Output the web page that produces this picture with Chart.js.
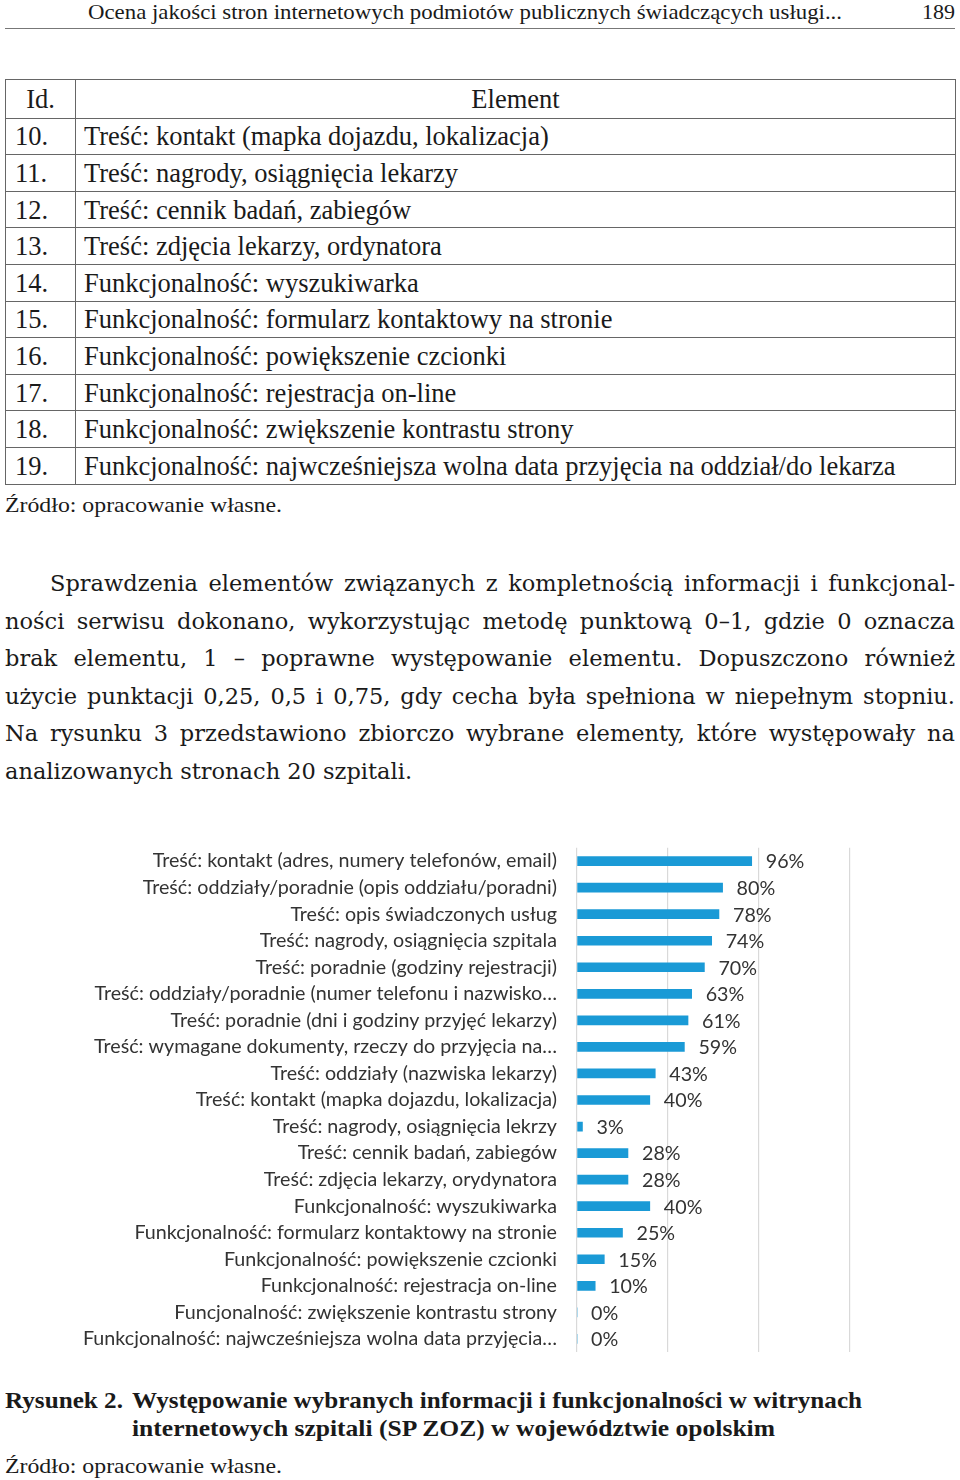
<!DOCTYPE html>
<html lang="pl">
<head>
<meta charset="utf-8">
<title>Rysunek 2</title>
<script src="https://cdn.jsdelivr.net/npm/chart.js@4.4.1/dist/chart.umd.min.js"></script>
<style>
  html, body { margin: 0; padding: 0; background: #fff; }
  body { width: 960px; height: 1480px; position: relative; font-family: "Liberation Serif", serif; color: #1a1a1a; overflow: hidden; }
  .abs { position: absolute; white-space: nowrap; }
  .fit { transform-origin: 0 50%; }
  #header { left: 88px; top: 0; font-size: 22px; line-height: 24px; }
  #page { right: 5px; top: 0; font-size: 22px; line-height: 24px; }
  #rule { left: 5px; top: 28px; width: 950px; height: 0; border-top: 1.5px solid #777; }
  table { position: absolute; left: 5px; top: 79px; width: 951px; border-collapse: collapse; font-size: 26.5px; }
  td { border: 1.5px solid #666; height: 35.6px; padding: 0 0 0 8px; line-height: 34px; white-space: nowrap; }
  td.id { width: 60px; padding-left: 9px; }
  th { border: 1.5px solid #666; height: 35.6px; font-weight: normal; line-height: 34px; }
  .src { font-size: 22px; line-height: 24px; left: 5px; }
  .para { left: 5px; width: 950px; font-family: "DejaVu Serif", serif; font-size: 22.5px; line-height: 30px; text-align: justify; text-align-last: justify; white-space: nowrap; }
  .caption { font-weight: bold; font-size: 23px; line-height: 26px; }
  #chartBox { position: absolute; left: 0; top: 816px; width: 960px; height: 568px; }
</style>
</head>
<body>

<div class="abs fit" id="header" data-w="754">Ocena jakości stron internetowych podmiotów publicznych świadczących usługi...</div>
<div class="abs" id="page">189</div>
<div class="abs" id="rule"></div>

<table>
  <tr><th>Id.</th><th>Element</th></tr>
  <tr><td class="id">10.</td><td>Treść: kontakt (mapka dojazdu, lokalizacja)</td></tr>
  <tr><td class="id">11.</td><td>Treść: nagrody, osiągnięcia lekarzy</td></tr>
  <tr><td class="id">12.</td><td>Treść: cennik badań, zabiegów</td></tr>
  <tr><td class="id">13.</td><td>Treść: zdjęcia lekarzy, ordynatora</td></tr>
  <tr><td class="id">14.</td><td>Funkcjonalność: wyszukiwarka</td></tr>
  <tr><td class="id">15.</td><td>Funkcjonalność: formularz kontaktowy na stronie</td></tr>
  <tr><td class="id">16.</td><td>Funkcjonalność: powiększenie czcionki</td></tr>
  <tr><td class="id">17.</td><td>Funkcjonalność: rejestracja on-line</td></tr>
  <tr><td class="id">18.</td><td>Funkcjonalność: zwiększenie kontrastu strony</td></tr>
  <tr><td class="id">19.</td><td>Funkcjonalność: najwcześniejsza wolna data przyjęcia na oddział/do lekarza</td></tr>
</table>

<div class="abs src fit" style="top:493px" data-w="277">Źródło: opracowanie własne.</div>

<div class="abs para" style="top:568px; left:50px; width:905px">Sprawdzenia elementów związanych z kompletnością informacji i funkcjonal-</div>
<div class="abs para" style="top:606px">ności serwisu dokonano, wykorzystując metodę punktową 0–1, gdzie 0 oznacza</div>
<div class="abs para" style="top:643px">brak elementu, 1 – poprawne występowanie elementu. Dopuszczono również</div>
<div class="abs para" style="top:681px">użycie punktacji 0,25, 0,5 i 0,75, gdy cecha była spełniona w niepełnym stopniu.</div>
<div class="abs para" style="top:718px">Na rysunku 3 przedstawiono zbiorczo wybrane elementy, które występowały na</div>
<div class="abs para" style="top:756px; text-align-last:left">analizowanych stronach 20 szpitali.</div>

<div id="chartBox"><canvas id="chart"></canvas></div>

<div class="abs caption fit" style="top:1388px; left:5px" data-w="118">Rysunek 2.</div>
<div class="abs caption fit" style="top:1388px; left:132px" data-w="730">Występowanie wybranych informacji i funkcjonalności w witrynach</div>
<div class="abs caption fit" style="top:1416px; left:132px" data-w="643">internetowych szpitali (SP ZOZ) w województwie opolskim</div>
<div class="abs src fit" style="top:1454px" data-w="277">Źródło: opracowanie własne.</div>

<script>
const categories = [
  'Treść: kontakt (adres, numery telefonów, email)',
  'Treść: oddziały/poradnie (opis oddziału/poradni)',
  'Treść: opis świadczonych usług',
  'Treść: nagrody, osiągnięcia szpitala',
  'Treść: poradnie (godziny rejestracji)',
  'Treść: oddziały/poradnie (numer telefonu i nazwisko…',
  'Treść: poradnie (dni i godziny przyjęć lekarzy)',
  'Treść: wymagane dokumenty, rzeczy do przyjęcia na…',
  'Treść: oddziały (nazwiska lekarzy)',
  'Treść: kontakt (mapka dojazdu, lokalizacja)',
  'Treść: nagrody, osiągnięcia lekrzy',
  'Treść: cennik badań, zabiegów',
  'Treść: zdjęcia lekarzy, orydynatora',
  'Funkcjonalność: wyszukiwarka',
  'Funkcjonalność: formularz kontaktowy na stronie',
  'Funkcjonalność: powiększenie czcionki',
  'Funkcjonalność: rejestracja on-line',
  'Funcjonalność: zwiększenie kontrastu strony',
  'Funkcjonalność: najwcześniejsza wolna data przyjęcia…'
];
const values = [96, 80, 78, 74, 70, 63, 61, 59, 43, 40, 3, 28, 28, 40, 25, 15, 10, 0, 0];
const gridTicks = [0, 50, 100, 150];

// stretch a few condensed lines to the width they have on the page
document.querySelectorAll('.fit').forEach(el => {
  const w = parseFloat(el.dataset.w);
  const real = el.getBoundingClientRect().width;
  if (real > 0) el.style.transform = 'scaleX(' + (w / real) + ')';
});

const labelFont = '"Lato", "Noto Sans", sans-serif';

const valueLabels = {
  id: 'valueLabels',
  afterDatasetsDraw(chart) {
    const ctx = chart.ctx;
    const meta = chart.getDatasetMeta(0);
    ctx.save();
    ctx.font = '19.7px ' + labelFont;
    ctx.fillStyle = '#333';
    ctx.textAlign = 'left';
    ctx.textBaseline = 'middle';
    meta.data.forEach((bar, i) => {
      ctx.fillText(values[i] + '%', bar.x + 14, bar.y + 1);
    });
    ctx.restore();
  }
};

new Chart(document.getElementById('chart').getContext('2d'), {
  type: 'bar',
  data: {
    labels: categories,
    datasets: [{
      data: values,
      backgroundColor: '#1a9ad6',
      borderWidth: 0,
      barThickness: 9
    }]
  },
  options: {
    indexAxis: 'y',
    responsive: true,
    maintainAspectRatio: false,
    animation: false,
    layout: { padding: { top: 7, bottom: 7, left: 0, right: 110 } },
    plugins: { legend: { display: false }, tooltip: { enabled: false } },
    scales: {
      x: {
        min: 0,
        max: 150,
        afterBuildTicks: scale => { scale.ticks = gridTicks.map(v => ({ value: v })); },
        ticks: { display: false },
        grid: { color: '#d9d9d9', lineWidth: 1.2, drawTicks: false },
        border: { display: false },
        afterFit: scale => { scale.height = 0; }
      },
      y: {
        ticks: {
          autoSkip: false,
          padding: 20,
          color: '#333',
          font: { family: labelFont, size: 19.7 }
        },
        grid: { display: false, drawTicks: false },
        border: { display: false },
        afterFit: scale => { scale.width = 577; }
      }
    }
  },
  plugins: [valueLabels]
});
</script>
</body>
</html>
